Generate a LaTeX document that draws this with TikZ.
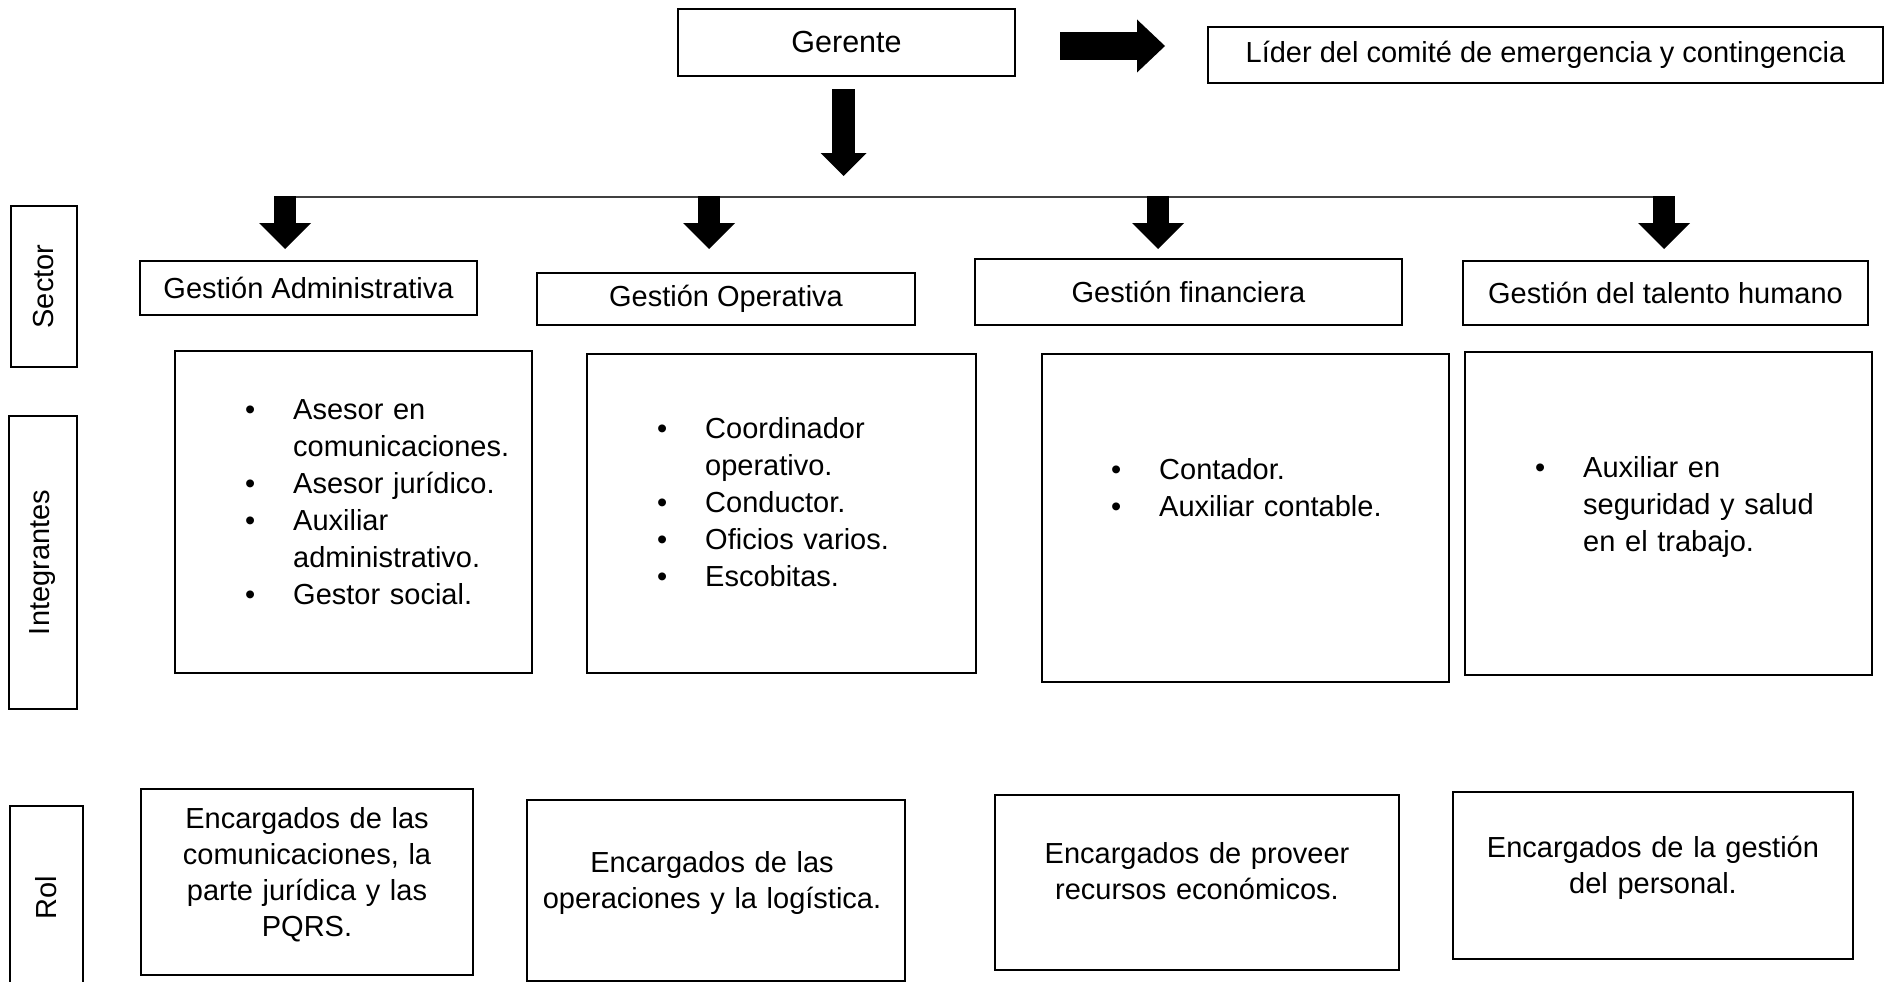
\documentclass[tikz,border=0pt]{standalone}
\usepackage{fontspec}
\setmainfont{Liberation Sans}
\usetikzlibrary{arrows.meta}
\newcommand{\bul}{\leavevmode\llap{\textbullet\hspace{38pt}}}
\begin{document}
\begin{tikzpicture}[x=1pt,y=-1pt,
  box/.style={draw=black, line width=2pt, inner sep=0pt, align=center,
    font=\fontsize{29}{36}\selectfont},
  lst/.style={font=\fontsize{29}{37}\selectfont, inner sep=0pt, anchor=base west,
    align=left, text width=300pt},
  roltxt/.style={font=\fontsize{29}{36.3}\selectfont, inner sep=0pt, anchor=base,
    align=center, text width=380pt},
  rowarrow/.style={line width=22pt, -{Triangle[width=52pt,length=26pt,line width=0pt]}},
  toparrow/.style={line width=23pt, -{Triangle[width=46pt,length=23pt,line width=0pt]}},
  sidearrow/.style={line width=28pt, -{Triangle[width=53pt,length=28pt,line width=0pt]}},
  busline/.style={line width=1.3pt, draw=black!75}]

\useasboundingbox (0,0) rectangle (1887,982);
\fill[white] (0,0) rectangle (1887,982);

% top
\node[box, minimum width=337pt, minimum height=67pt, font=\fontsize{30.5}{36}\selectfont] (ger) at (846.5,42.5) {Gerente};
\node[box, minimum width=675pt, minimum height=56pt] (lid) at (1545.5,55) {Líder del comité de emergencia y contingencia};

% row labels
\node[box, rotate=90, minimum width=161pt, minimum height=66pt] (sec) at (44,286.5) {Sector};
\node[box, rotate=90, minimum width=293pt, minimum height=68pt] (int) at (43,562.5) {Integrantes};
\node[box, rotate=90, minimum width=184pt, minimum height=73pt] (rol) at (46.5,898) {Rol};

% sector boxes
\node[box, minimum width=337pt, minimum height=54pt] (ga) at (308.5,288) {Gestión Administrativa};
\node[box, minimum width=378pt, minimum height=52pt] (go) at (726,299) {Gestión Operativa};
\node[box, minimum width=427pt, minimum height=66pt] (gf) at (1188.5,292) {Gestión financiera};
\node[box, minimum width=405pt, minimum height=64pt] (gt) at (1665.5,293) {Gestión del talento humano};

% integrantes boxes
\node[box, minimum width=357pt, minimum height=322pt] (i1) at (353.5,512) {};
\node[box, minimum width=389pt, minimum height=319pt] (i2) at (781.5,513.5) {};
\node[box, minimum width=407pt, minimum height=328pt] (i3) at (1245.5,518) {};
\node[box, minimum width=407pt, minimum height=323pt] (i4) at (1668.5,513.5) {};

\node[lst] (l1) at (293,419) {\bul Asesor en\\comunicaciones.\\\bul Asesor jurídico.\\\bul Auxiliar\\administrativo.\\\bul Gestor social.};
\node[lst] (l2) at (705,438) {\bul Coordinador\\operativo.\\\bul Conductor.\\\bul Oficios varios.\\\bul Escobitas.};
\node[lst] (l3) at (1159,479) {\bul Contador.\\\bul Auxiliar contable.};
\node[lst] (l4) at (1583,477) {\bul Auxiliar en\\seguridad y salud\\en el trabajo.};

% rol boxes
\node[box, minimum width=332pt, minimum height=186pt] (r1) at (307,882) {};
\node[box, minimum width=378pt, minimum height=181pt] (r2) at (716,890.5) {};
\node[box, minimum width=404pt, minimum height=175pt] (r3) at (1197,882.5) {};
\node[box, minimum width=400pt, minimum height=167pt] (r4) at (1653,875.5) {};

\node[roltxt] (rt1) at (307,828) {Encargados de las\\comunicaciones, la\\parte jurídica y las\\PQRS.};
\node[roltxt] (rt2) at (712,872) {Encargados de las\\operaciones y la logística.};
\node[roltxt] (rt3) at (1197,863) {Encargados de proveer\\recursos económicos.};
\node[roltxt] (rt4) at (1653,857) {Encargados de la gestión\\del personal.};

% connectors
\coordinate (sa) at (1060,46);
\coordinate (sb) at (1165,46);
\draw[sidearrow] (sa) -- (sb);

\coordinate (ma) at (843.5,89);
\coordinate (mb) at (843.5,176);
\draw[toparrow] (ma) -- (mb);

\coordinate (busL) at (275,197);
\coordinate (busR) at (1653,197);
\draw[busline] (busL) -- (busR);

\coordinate (a1) at (285,196);
\coordinate (a2) at (709,196);
\coordinate (a3) at (1158,196);
\coordinate (a4) at (1664,196);
\coordinate (t1) at (285,249);
\coordinate (t2) at (709,249);
\coordinate (t3) at (1158,249);
\coordinate (t4) at (1664,249);
\draw[rowarrow] (a1) -- (t1);
\draw[rowarrow] (a2) -- (t2);
\draw[rowarrow] (a3) -- (t3);
\draw[rowarrow] (a4) -- (t4);
\end{tikzpicture}
\end{document}
